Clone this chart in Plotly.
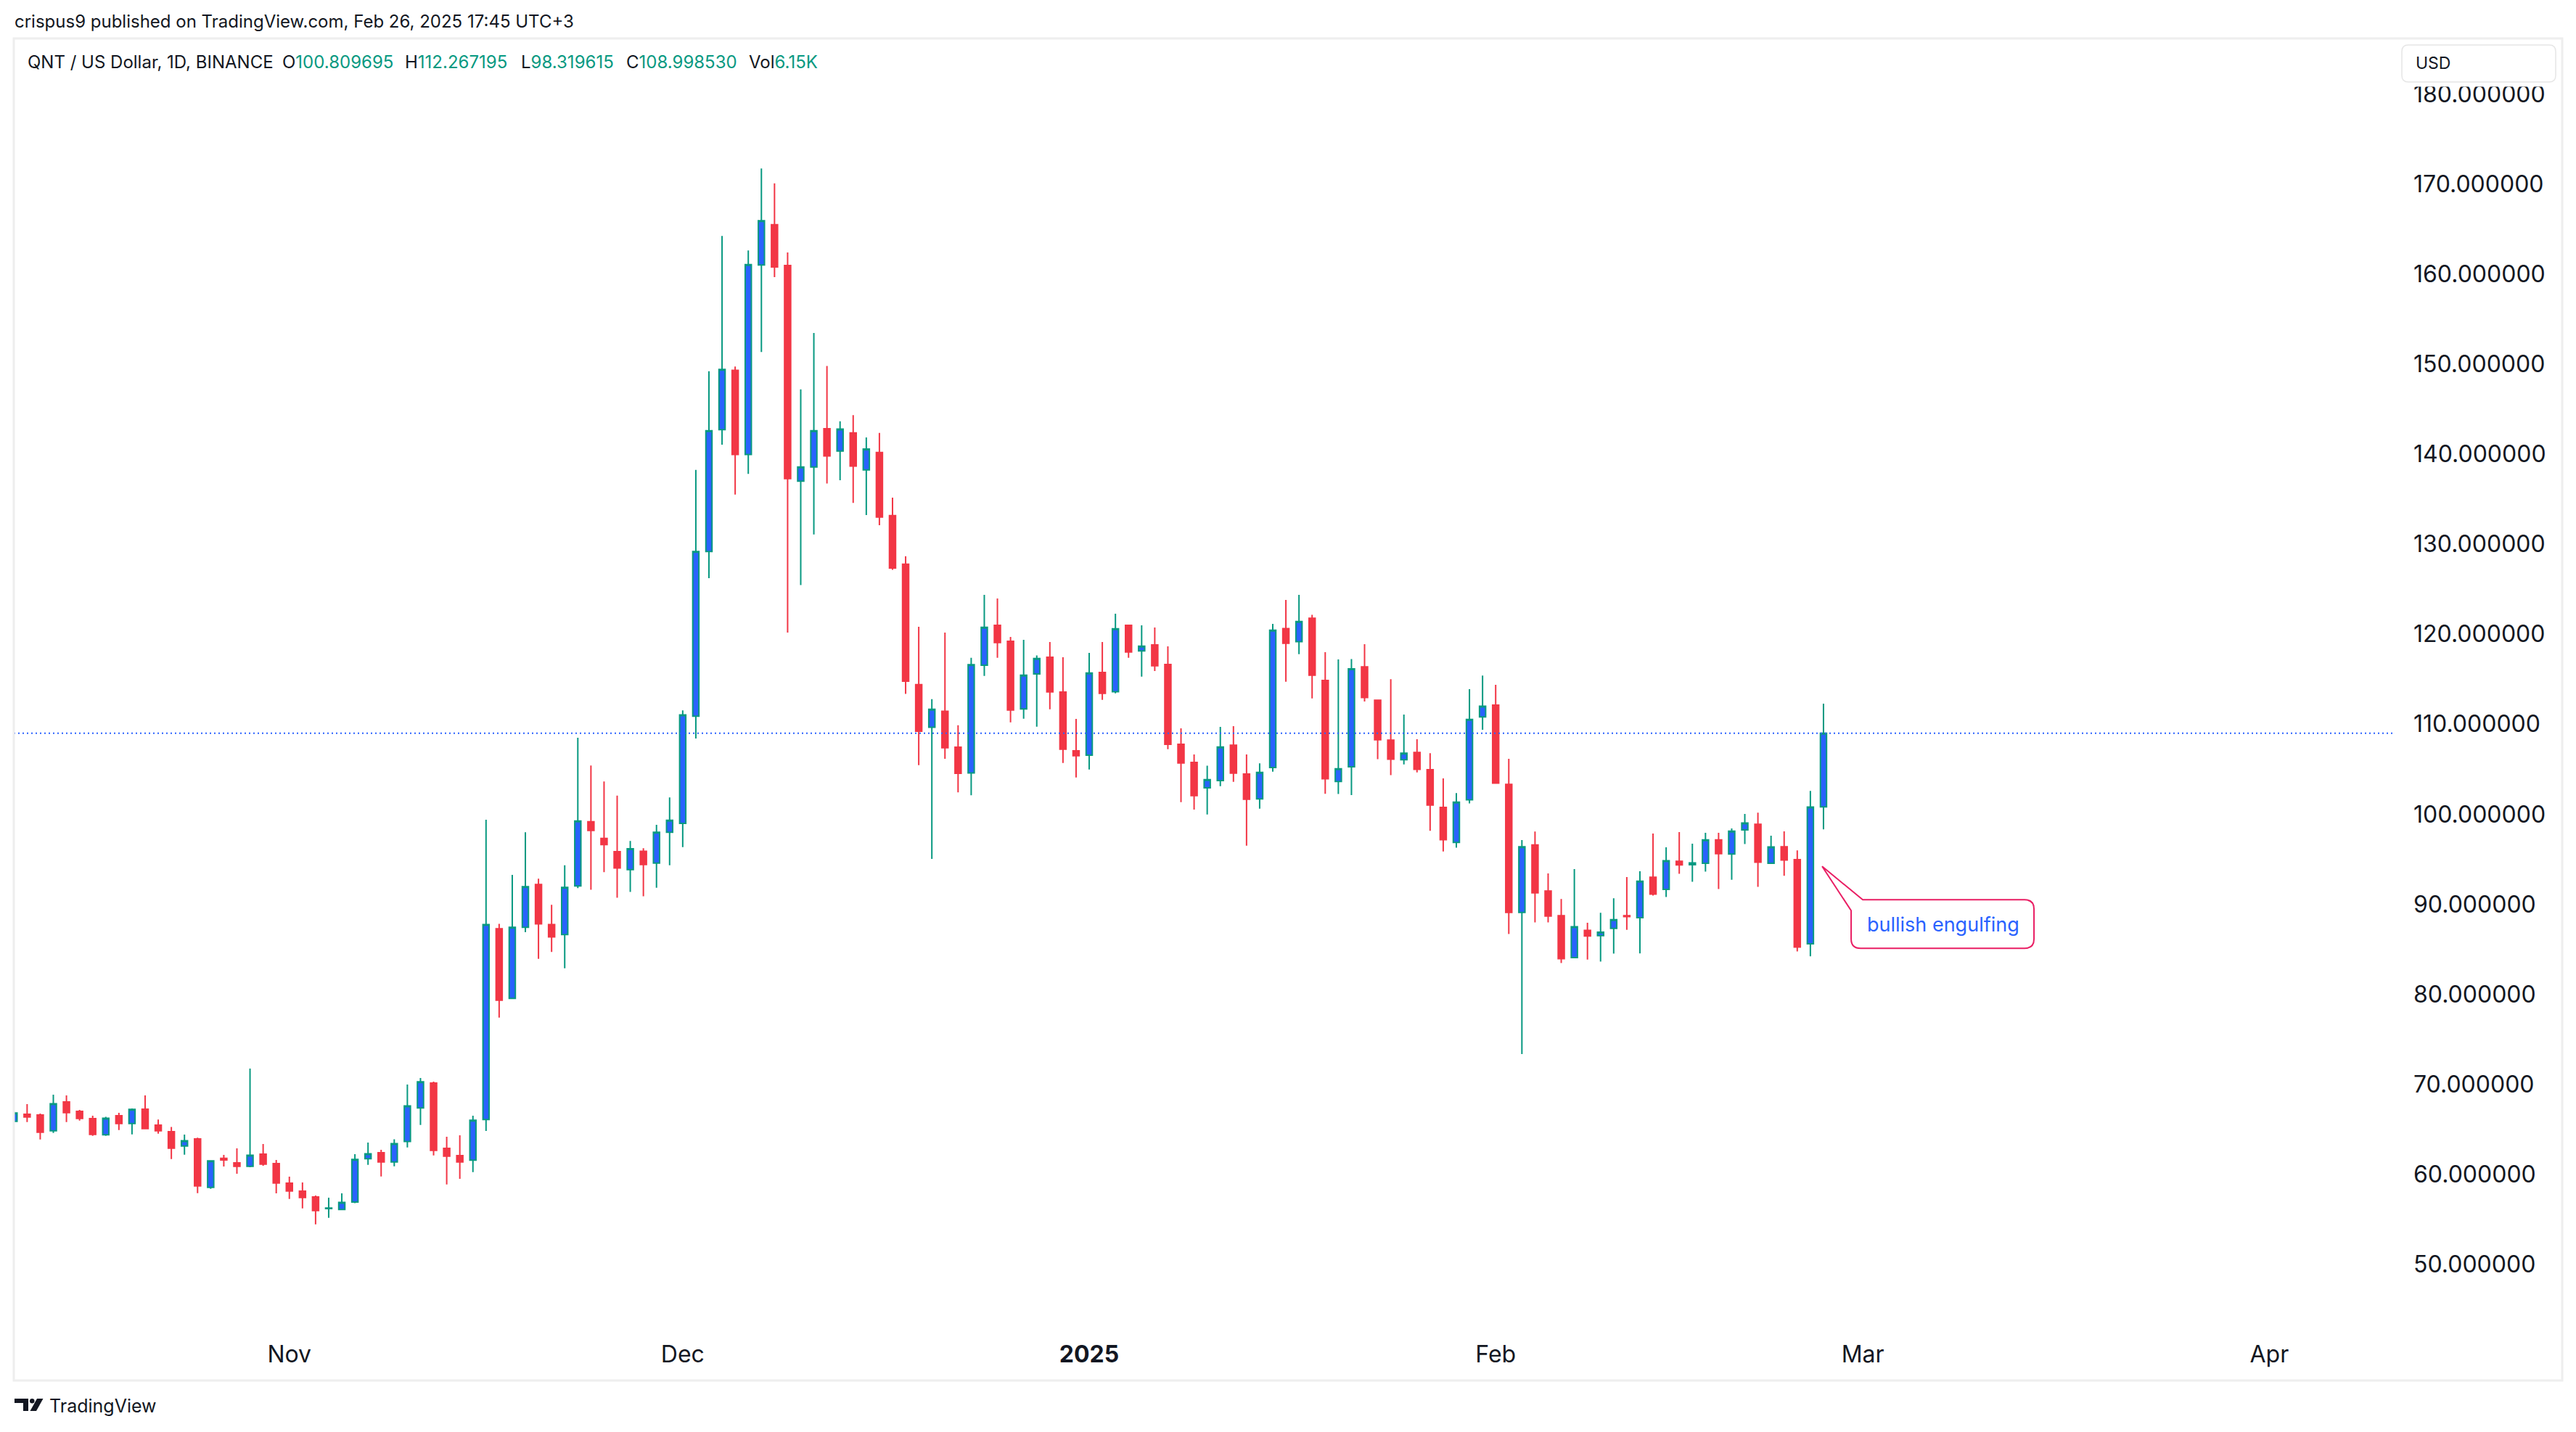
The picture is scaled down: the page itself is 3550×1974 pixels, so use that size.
import pandas as pd
import plotly.graph_objects as go

# QNT / US Dollar, 1D, BINANCE  (Oct 11 2024 .. Feb 26 2025)
dates = pd.date_range("2024-10-11", "2025-02-26", freq="D")

open_ = [
    65.88, 66.66, 66.58, 64.83, 68.03, 66.98, 66.18, 64.38, 66.50, 65.64, 67.23, 65.45, 64.73, 63.14, 63.92, 58.55, 61.77, 61.26, 60.89, 62.23, 61.18,
    59.01, 58.12, 57.47, 56.18, 56.08, 56.91, 61.72, 62.39, 61.37, 63.65, 67.36, 70.13, 62.87, 62.07, 61.56, 66.08, 87.28, 79.53, 87.43, 92.18,
    87.74, 86.62, 92.02, 99.15, 97.30, 95.84, 93.83, 95.88, 94.57, 97.99,
    98.97, 110.89, 129.17, 142.71, 149.29, 139.96, 161.00, 165.47, 160.94, 137.00, 138.56, 142.82, 140.34, 142.34, 138.24, 140.18,
    133.17, 127.77, 114.39, 109.65, 111.43, 107.44, 104.58, 116.54, 120.97, 119.20, 111.68, 115.57, 117.43, 113.56, 107.03,
    106.55, 115.73, 113.61, 120.97, 118.13, 118.80, 116.62, 107.76, 105.74, 102.92, 103.73, 107.65, 104.45, 101.69, 105.18, 120.62,
    119.17, 121.77, 114.85, 103.63, 105.26, 116.37, 112.66, 108.22, 106.04, 106.85, 104.93, 100.75, 96.86, 101.60, 110.81,
    112.11, 103.30, 89.09, 96.57, 91.46, 88.72, 84.06, 87.09, 86.50, 87.31, 88.72, 88.51, 92.99, 91.65, 94.76, 94.39, 94.55,
    97.15, 95.57, 98.26, 98.87, 94.55, 96.38, 94.95, 85.60, 100.809695,
]
high = [
    66.95, 67.79, 66.74, 68.84, 68.76, 67.15, 66.50, 66.39, 66.82, 67.31, 68.76, 66.07, 65.26, 64.40, 64.06, 61.56, 62.15, 62.87, 71.74, 63.36, 61.58,
    59.73, 59.09, 57.64, 57.39, 57.88, 62.23, 63.52, 62.71, 63.89, 69.97, 70.69, 70.29, 64.16, 64.32, 66.50, 99.38, 87.82, 93.26, 97.99, 92.83,
    89.94, 94.33, 108.48, 105.40, 103.63, 102.05, 97.03, 96.22, 98.81, 101.85,
    111.53, 138.24, 149.19, 164.23, 149.72, 162.62, 171.73, 170.06, 162.40, 147.19, 153.45, 149.78, 143.63, 144.33, 141.85, 142.34,
    135.16, 128.64, 120.81, 112.78, 120.17, 109.87, 117.36, 124.36, 123.95, 119.68, 119.36, 117.64, 119.12, 117.43, 110.58,
    117.91, 119.12, 122.26, 121.05, 120.97, 120.73, 118.64, 109.53, 106.63, 105.39, 109.69, 109.77, 106.63, 105.64, 121.13, 123.79,
    124.36, 122.14, 117.99, 117.18, 117.22, 118.88, 112.70, 115.00, 111.07, 108.33, 106.78, 103.97, 102.34, 113.89, 115.40,
    114.37, 106.15, 97.12, 98.08, 93.42, 90.57, 93.90, 87.94, 89.05, 90.66, 93.02, 93.66, 97.85, 96.32, 98.01, 96.72, 97.93,
    97.93, 98.42, 100.03, 100.16, 97.61, 98.09, 95.97, 102.58, 112.267195,
]
low = [
    65.80, 65.80, 63.87, 64.59, 65.80, 65.96, 64.27, 64.27, 64.92, 64.43, 65.00, 64.51, 61.69, 62.18, 57.90, 58.39, 60.86, 60.05, 60.78, 60.94, 57.88,
    57.26, 56.21, 54.44, 55.17, 56.03, 56.80, 61.05, 59.76, 60.89, 62.98, 65.48, 62.09, 58.87, 59.49, 60.24, 64.81, 77.41, 79.45, 86.89, 83.93,
    84.70, 82.89, 91.79, 91.60, 93.56, 90.71, 91.37, 90.87, 91.83, 94.33,
    96.34, 108.41, 126.21, 141.04, 135.49, 137.80, 151.34, 159.65, 120.17, 125.45, 131.06, 136.73, 137.10, 134.57, 133.22, 132.09,
    127.13, 113.37, 105.44, 95.03, 106.14, 102.42, 102.10, 115.36, 117.37, 110.20, 110.60, 109.72, 111.65, 105.69, 104.08,
    104.96, 112.70, 113.42, 117.37, 115.28, 115.90, 107.22, 101.34, 100.50, 99.97, 103.11, 103.59, 96.50, 100.61, 104.72, 114.71,
    117.78, 112.85, 102.27, 102.23, 102.12, 112.52, 106.11, 104.34, 105.52, 104.63, 98.16, 95.86, 96.27, 101.19, 109.37,
    103.40, 86.69, 73.36, 87.98, 87.98, 83.46, 84.00, 83.84, 83.62, 84.52, 87.16, 84.53, 90.95, 90.79, 93.37, 92.48, 93.61,
    91.68, 92.72, 96.67, 91.92, 94.50, 93.15, 84.75, 84.21, 98.319615,
]
close = [
    66.80, 66.37, 64.67, 67.84, 66.85, 66.21, 64.43, 66.23, 65.64, 67.20, 65.08, 64.83, 62.90, 63.73, 58.71, 61.48, 61.58, 60.89, 62.12, 61.13, 59.03,
    58.15, 57.42, 55.97, 56.24, 56.88, 61.64, 62.28, 61.37, 63.41, 67.60, 70.26, 62.66, 62.01, 61.37, 65.99, 87.74, 79.34, 87.43, 91.95, 87.82,
    86.36, 91.87, 99.23, 98.19, 96.61, 94.03, 96.15, 94.41, 97.99, 99.31,
    111.03, 129.17, 142.60, 149.40, 139.96, 161.05, 165.91, 160.78, 137.27, 138.56, 142.60, 139.80, 142.77, 138.67, 140.56, 133.00,
    127.34, 114.77, 109.22, 111.65, 107.38, 104.53, 116.61, 120.76, 119.07, 111.57, 115.44, 117.29, 113.59, 107.22, 106.49,
    115.68, 113.42, 120.60, 118.02, 118.66, 116.49, 107.76, 105.69, 102.06, 103.84, 107.46, 104.56, 101.66, 104.64, 120.44, 118.98,
    121.40, 115.44, 103.93, 105.04, 116.14, 112.96, 108.26, 106.11, 106.78, 104.97, 101.01, 97.16, 101.34, 110.52, 112.00,
    103.45, 89.09, 96.38, 91.27, 88.68, 83.95, 87.50, 86.46, 86.88, 88.27, 88.63, 92.56, 91.11, 94.82, 94.36, 94.58, 97.15,
    95.62, 98.12, 99.01, 94.66, 96.35, 94.90, 85.23, 100.78, 108.998530,
]
assert len(dates) == len(open_) == len(high) == len(low) == len(close)

month_ticks = ["2024-11-01", "2024-12-01", "2025-01-01", "2025-02-01", "2025-03-01", "2025-04-01"]
month_labels = ["Nov", "Dec", "<b>2025</b>", "Feb", "Mar", "Apr"]
price_ticks = list(range(50, 190, 10))

x_range = ["2024-10-10 23:37", "2025-04-10 12:00"]
y_range = [43.054, 186.164]

UP_FILL, UP_LINE, DOWN = "#2962ff", "#089981", "#f23645"
TEXT = "#131722"
FONT = "Inter"

# page geometry (px) of the price pane; the html body adds an 8px margin
W, H, OFF = 3550, 1974, 8
FW, FH = W - 2 * OFF, H - 2 * OFF
L, R, T, B = 19, 3299, 53, 1829


def px(x):
    return (x - L) / (R - L)


def py(y):
    return (B - y) / (B - T)


def data_to_pix(date, price):
    t0, t1 = pd.Timestamp(x_range[0]), pd.Timestamp(x_range[1])
    xf = (pd.Timestamp(date) - t0) / (t1 - t0)
    yf = (price - y_range[0]) / (y_range[1] - y_range[0])
    return L + xf * (R - L), B - yf * (B - T)


def path_from(points):
    out = []
    for cmd, *c in points:
        xy = " ".join(f"{px(c[i]):.5f},{py(c[i + 1]):.5f}" for i in range(0, len(c), 2))
        out.append(f"{cmd}{xy}")
    return " ".join(out) + " Z"


def round_rect(x0, y0, x1, y1, r):
    return path_from([
        ("M", x0 + r, y0), ("L", x1 - r, y0), ("Q", x1, y0, x1, y0 + r),
        ("L", x1, y1 - r), ("Q", x1, y1, x1 - r, y1),
        ("L", x0 + r, y1), ("Q", x0, y1, x0, y1 - r),
        ("L", x0, y0 + r), ("Q", x0, y0, x0 + r, y0),
    ])


fig = go.Figure(go.Candlestick(
    x=dates, open=open_, high=high, low=low, close=close,
    increasing=dict(fillcolor=UP_FILL, line=dict(color=UP_LINE, width=2)),
    decreasing=dict(fillcolor=DOWN, line=dict(color=DOWN, width=2)),
    whiskerwidth=0, showlegend=False,
))

shapes = []
# last close price line
shapes.append(dict(type="line", xref="paper", x0=0, x1=1, yref="y", y0=close[-1], y1=close[-1],
                   line=dict(color=UP_FILL, width=2, dash="2px,4px")))
# pane frame
shapes.append(dict(type="rect", xref="paper", yref="paper", x0=px(19), x1=px(3531), y0=py(53), y1=py(1903),
                   line=dict(color="#eeeeee", width=3), layer="above"))
# USD box (its white strip slightly clips the top price label, as on the original)
shapes.append(dict(type="rect", xref="paper", yref="paper", x0=px(3312), x1=px(3520), y0=py(113), y1=py(119.5),
                   line=dict(width=0), fillcolor="white", layer="above"))
shapes.append(dict(type="path", xref="paper", yref="paper", path=round_rect(3310, 62, 3522, 113, 9),
                   line=dict(color="#e6e6e6", width=1.5), fillcolor="white", layer="above"))

# "bullish engulfing" callout, pointer anchored to the Feb 25 candle
tx, ty = data_to_pix("2025-02-25 21:30", 94.2)
bx0, bx1, by0, by1, rr = tx + 40, tx + 292, ty + 46, ty + 113, 13
shapes.append(dict(type="path", xref="paper", yref="paper", layer="above",
                   line=dict(color="#e91e63", width=2), fillcolor="rgba(255,255,255,0)",
                   path=path_from([
                       ("M", tx, ty), ("L", tx + 56, by0), ("L", bx1 - rr, by0), ("Q", bx1, by0, bx1, by0 + rr),
                       ("L", bx1, by1 - rr), ("Q", bx1, by1, bx1 - rr, by1),
                       ("L", bx0 + rr, by1), ("Q", bx0, by1, bx0, by1 - rr),
                       ("L", bx0, ty + 61),
                   ])))

# TradingView logo mark
shapes.append(dict(type="path", xref="paper", yref="paper", line=dict(width=0), fillcolor=TEXT,
                   path=path_from([("M", 20, 1928), ("L", 39, 1928), ("L", 39, 1945), ("L", 32, 1945),
                                   ("L", 32, 1934), ("L", 20, 1934)])))
shapes.append(dict(type="circle", xref="paper", yref="paper", line=dict(width=0), fillcolor=TEXT,
                   x0=px(41), x1=px(47.5), y0=py(1928), y1=py(1934.5)))
shapes.append(dict(type="path", xref="paper", yref="paper", line=dict(width=0), fillcolor=TEXT,
                   path=path_from([("M", 51, 1928), ("L", 59.5, 1928), ("L", 50, 1945), ("L", 41.5, 1945)])))

annotations = []


def text(x, y, s, size, color=TEXT, anchor="left"):
    annotations.append(dict(xref="paper", yref="paper", x=px(x), y=py(y), text=s, showarrow=False,
                            xanchor=anchor, yanchor="middle", font=dict(family=FONT, size=size, color=color)))


text(18, 30, "crispus9 published on TradingView.com, Feb 26, 2025 17:45 UTC+3", 24)
legend = [(36, "QNT / US Dollar, 1D, BINANCE", ""),
          (387, "O", f"{open_[-1]:.6f}"), (556, "H", f"{high[-1]:.6f}"),
          (716, "L", f"{low[-1]:.6f}"), (861, "C", f"{close[-1]:.6f}"), (1030, "Vol", "6.15K")]
for lx, lab, val in legend:
    text(lx, 86, f"{lab}<span style='color:{UP_LINE}'>{val}</span>", 24)
text(3327, 87, "USD", 23)
text((bx0 + bx1) / 2 + 1, ty + 80, "bullish engulfing", 27, color=UP_FILL, anchor="center")
text(66, 1938, "TradingView", 25)

fig.update_layout(
    width=FW, height=FH,
    margin=dict(l=L - OFF, r=FW - (R - OFF), t=T - OFF, b=FH - (B - OFF)),
    paper_bgcolor="white", plot_bgcolor="white",
    boxgap=0.33,
    shapes=shapes, annotations=annotations,
    xaxis=dict(type="date", range=x_range, rangeslider=dict(visible=False),
               tickvals=month_ticks, ticktext=month_labels, showgrid=False, zeroline=False,
               showline=False, ticks="", ticklabelstandoff=16,
               tickfont=dict(family=FONT, size=32, color=TEXT)),
    yaxis=dict(side="right", range=y_range, tickvals=price_ticks, tickformat=".6f",
               showgrid=False, zeroline=False, showline=False, ticks="", ticklabelstandoff=26,
               tickfont=dict(family=FONT, size=32, color=TEXT)),
    hovermode=False,
)

fig.write_html("out.html")
